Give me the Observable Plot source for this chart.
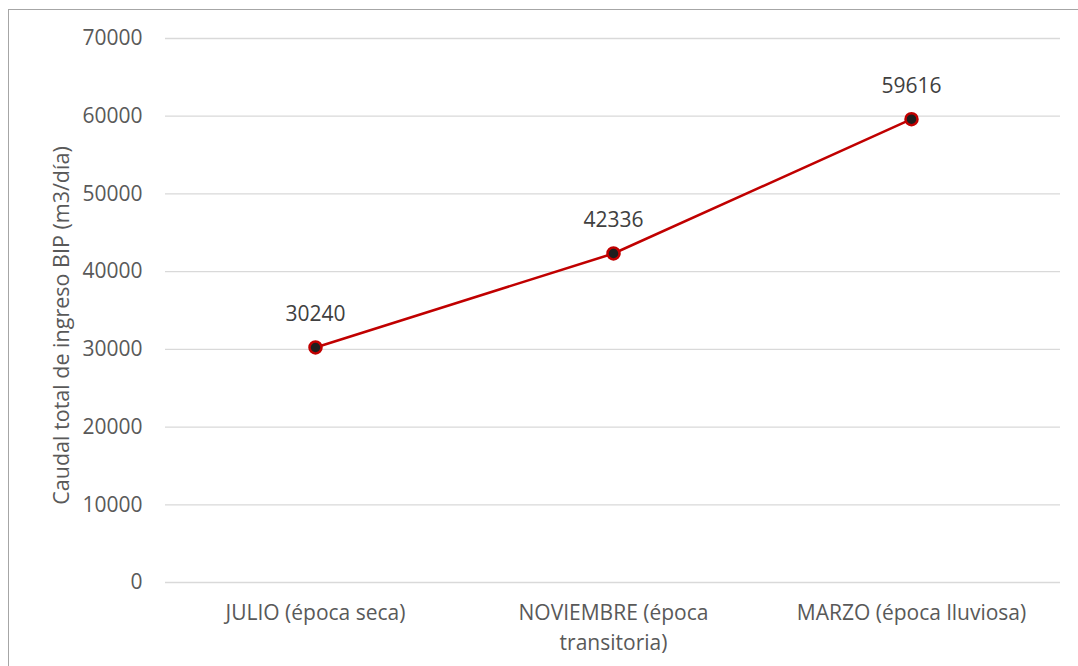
<!DOCTYPE html>
<html>
<head>
<meta charset="utf-8">
<script src="https://cdn.jsdelivr.net/npm/d3@7"></script>
<script src="https://cdn.jsdelivr.net/npm/@observablehq/plot@0.6"></script>
<style>
  html, body { margin: 0; padding: 0; background: #fff; }
  #wrap { position: relative; width: 1078px; height: 666px; overflow: hidden; }
  #border { position: absolute; left: 8px; top: 9px; width: 1080px; height: 670px; border: 1px solid #a6a6a6; box-sizing: border-box; pointer-events: none; }
  svg { display: block; }
</style>
</head>
<body>
<div id="wrap"><div id="border"></div></div>
<script>
const categories = ["JULIO (época seca)", "NOVIEMBRE (época\ntransitoria)", "MARZO (época lluviosa)"];
const values = [30240, 42336, 59616];
const yTicks = [0, 10000, 20000, 30000, 40000, 50000, 60000, 70000];
const yLabel = "Caudal total de ingreso BIP (m3/día)";

const data = categories.map((c, i) => ({cat: c, val: values[i]}));
const font = "'Open Sans', sans-serif";

const chart = Plot.plot({
  width: 1078,
  height: 666,
  marginLeft: 165,
  marginRight: 18,
  marginTop: 38,
  marginBottom: 84,
  style: {fontFamily: font, fontSize: "21px", color: "#595959", background: "transparent"},
  x: {type: "point", domain: categories, padding: 0.5},
  y: {domain: [0, 70000]},
  marks: [
    Plot.gridY(yTicks, {stroke: "#d9d9d9", strokeOpacity: 1, strokeWidth: 1.3}),
    Plot.axisY(yTicks, {tickSize: 0, tickPadding: 23, fill: "#595959", fontSize: 21, label: null, tickFormat: d => String(d)}),
    Plot.axisX({tickSize: 0, tickPadding: 17, fill: "#595959", fontSize: 21, lineHeight: 1.4, label: null, lineAnchor: "top"}),
    Plot.text([yLabel], {frameAnchor: "left", textAnchor: "middle", dx: -103, dy: 15, rotate: -90, fontSize: 21.5, fill: "#595959"}),
    Plot.line(data, {x: "cat", y: "val", stroke: "#c00000", strokeWidth: 2.5}),
    Plot.dot(data, {x: "cat", y: "val", r: 6, fill: "#1e1e1e", stroke: "#c00000", strokeWidth: 2.5}),
    Plot.text(data, {x: "cat", y: "val", text: d => String(d.val), dy: -33, fontSize: 21, fill: "#404040"})
  ]
});
document.getElementById("wrap").prepend(chart);
</script>
</body>
</html>
